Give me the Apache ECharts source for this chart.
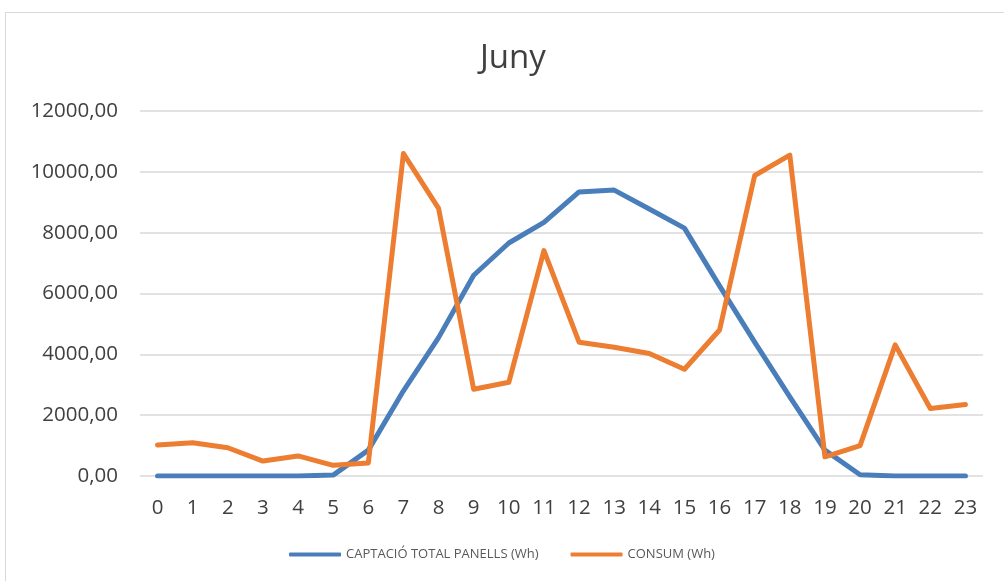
<!DOCTYPE html>
<html>
<head>
<meta charset="utf-8">
<script src="https://cdn.jsdelivr.net/npm/echarts@6/dist/echarts.min.js"></script>
<style>
  html, body { margin: 0; padding: 0; background: #fff; }
  #chart { width: 1004px; height: 581px; }
  .frame {
    position: absolute; left: 5px; top: 12px; width: 1100px; height: 700px;
    border: 1.5px solid #d9d9d9; pointer-events: none;
  }
</style>
</head>
<body>
<div id="chart"></div>
<div class="frame"></div>
<script>
// hores del dia
const hours = ['0','1','2','3','4','5','6','7','8','9','10','11','12','13','14','15','16','17','18','19','20','21','22','23'];
// captació total panells (Wh)
const captacio = [0, 0, 0, 0, 0, 30, 850, 2800, 4550, 6600, 7660, 8340, 9340, 9400, 8780, 8150, 6250, 4400, 2600, 850, 40, 0, 0, 0];
// consum (Wh)
const consum = [1020, 1090, 930, 490, 660, 350, 430, 10600, 8800, 2850, 3080, 7410, 4400, 4230, 4030, 3510, 4800, 9880, 10550, 630, 1000, 4310, 2220, 2350];
const yTicks = { min: 0, max: 12000, interval: 2000 };

const chart = echarts.init(document.getElementById('chart'));
const font = 'Open Sans';
chart.setOption({
  animation: false,
  title: {
    text: 'Juny',
    left: 475,
    top: 37,
    textStyle: { fontFamily: font, fontSize: 33, fontWeight: 'normal', color: '#404040' }
  },
  grid: { left: 140, right: 21, top: 111, bottom: 105 },
  legend: {
    bottom: 15,
    left: 'center',
    itemWidth: 52,
    itemHeight: 4,
    itemGap: 32,
    icon: 'roundRect',
    textStyle: { fontFamily: font, fontSize: 13, color: '#595959' },
    data: ['CAPTACIÓ TOTAL PANELLS (Wh)', 'CONSUM (Wh)']
  },
  xAxis: {
    type: 'category',
    data: hours,
    boundaryGap: true,
    axisLine: { show: false },
    axisTick: { show: false },
    axisLabel: { fontFamily: font, fontSize: 20.5, color: '#404040', margin: 22, interval: 0 }
  },
  yAxis: {
    type: 'value',
    min: yTicks.min,
    max: yTicks.max,
    interval: yTicks.interval,
    axisLine: { show: false },
    axisTick: { show: false },
    axisLabel: {
      fontFamily: font, fontSize: 20.5, color: '#404040', margin: 22,
      formatter: v => v.toFixed(2).replace('.', ',')
    },
    splitLine: { lineStyle: { color: '#d9d9d9', width: 1.5 } }
  },
  series: [
    {
      name: 'CAPTACIÓ TOTAL PANELLS (Wh)',
      type: 'line',
      data: captacio,
      showSymbol: false,
      symbol: 'none',
      lineStyle: { color: '#4a7ebb', width: 5, cap: 'round', join: 'round' },
      itemStyle: { color: '#4a7ebb' }
    },
    {
      name: 'CONSUM (Wh)',
      type: 'line',
      data: consum,
      showSymbol: false,
      symbol: 'none',
      lineStyle: { color: '#ed7d31', width: 5, cap: 'round', join: 'round' },
      itemStyle: { color: '#ed7d31' }
    }
  ]
});
</script>
</body>
</html>
